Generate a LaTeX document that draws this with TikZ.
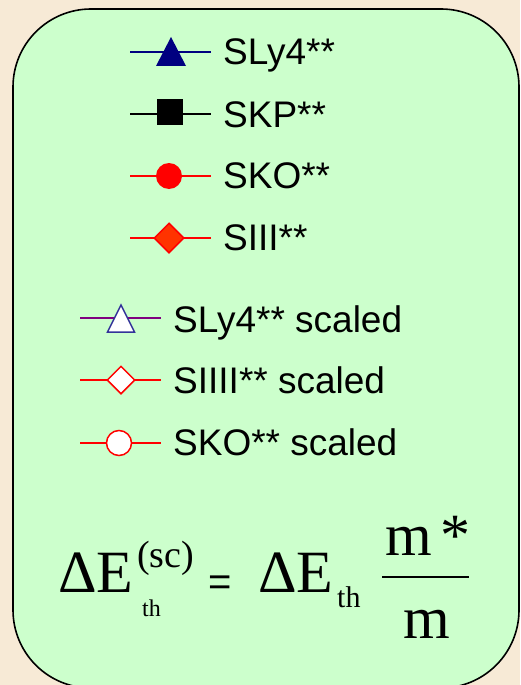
\documentclass[tikz,border=0pt]{standalone}
\usepackage{fontspec}
\setmainfont{Liberation Sans}
\newfontfamily\tms{Liberation Serif}
\usetikzlibrary{shapes.geometric}
\definecolor{bgbeige}{RGB}{247,234,214}
\definecolor{boxgreen}{RGB}{204,255,204}
\definecolor{navyc}{RGB}{0,0,128}
\definecolor{purplec}{RGB}{128,0,128}
\definecolor{outlineblue}{RGB}{51,51,153}
\definecolor{redc}{RGB}{255,0,0}
\definecolor{orangered}{RGB}{255,51,0}
\tikzset{
  legline/.style={line width=1.5pt},
  legtext/.style={anchor=base west, inner sep=0pt, font=\fontsize{37}{40}\selectfont},
  sq/.style={rectangle, minimum size=26pt, inner sep=0pt},
  circ/.style={circle, minimum size=26pt, inner sep=0pt},
  dia/.style={diamond, minimum size=30pt, inner sep=0pt},
  eqbig/.style={anchor=base west, inner sep=0pt, font=\tms\fontsize{60}{60}\selectfont},
  eqsmall/.style={anchor=base west, inner sep=0pt, font=\tms\fontsize{30}{30}\selectfont},
}
\begin{document}
\begin{tikzpicture}[x=1pt,y=-1pt]
\useasboundingbox (0,0) rectangle (520,685);
\fill[bgbeige] (0,0) rectangle (520,685);
% rounded box
\draw[line width=1.6pt, fill=boxgreen, rounded corners=78pt] (13,9) rectangle (519,688);

% row 1 SLy4**
\coordinate (l1a) at (130,52); \coordinate (l1b) at (211,52);
\draw[legline, navyc] (l1a) -- (l1b);
\coordinate (m1) at (171,51.5);
\fill[navyc] (m1) ++(-15,14.5) -- ++(15,-29) -- ++(15,29) -- cycle;
\node[legtext] (t1) at (223,65) {SLy4**};
% row 2 SKP**
\coordinate (l2a) at (130,114); \coordinate (l2b) at (211,114);
\draw[legline, black] (l2a) -- (l2b);
\node[sq, fill=black] (m2) at (170,112) {};
\node[legtext] (t2) at (223,127) {SKP**};
% row 3 SKO**
\coordinate (l3a) at (130,176); \coordinate (l3b) at (211,176);
\draw[legline, redc] (l3a) -- (l3b);
\node[circ, fill=redc] (m3) at (169,176) {};
\node[legtext] (t3) at (223,188) {SKO**};
% row 4 SIII**
\coordinate (l4a) at (130,238); \coordinate (l4b) at (211,238);
\draw[legline, redc] (l4a) -- (l4b);
\node[dia, fill=orangered, draw=redc, line width=1.5pt] (m4) at (169,238) {};
\node[legtext] (t4) at (223,250) {SIII**};

% scaled rows
\coordinate (l5a) at (80,318); \coordinate (l5b) at (161,318);
\draw[legline, purplec] (l5a) -- (l5b);
\coordinate (m5) at (121,318.5);
\filldraw[fill=white, draw=outlineblue, line width=1.5pt, line join=miter] (m5) ++(-13.5,13.5) -- ++(13.5,-27) -- ++(13.5,27) -- cycle;
\node[legtext] (t5) at (173,332) {SLy4** scaled};

\coordinate (l6a) at (80,380); \coordinate (l6b) at (161,380);
\draw[legline, redc] (l6a) -- (l6b);
\node[dia, minimum size=28pt, fill=white, draw=redc, line width=1.5pt] (m6) at (121,380) {};
\node[legtext] (t6) at (173,393) {SIIII** scaled};

\coordinate (l7a) at (80,443); \coordinate (l7b) at (161,443);
\draw[legline, redc] (l7a) -- (l7b);
\node[circ, minimum size=25pt, fill=white, draw=redc, line width=1.5pt] (m7) at (119,443) {};
\node[legtext] (t7) at (173,455) {SKO** scaled};

% formula
\node[eqbig] (e1) at (58,592) {ΔE};
\node[anchor=base west, inner sep=0pt, font=\tms\fontsize{38}{38}\selectfont] (e1sup) at (137,567) {(sc)};
\node[anchor=base west, inner sep=0pt, font=\tms\fontsize{24}{24}\selectfont] (e1sub) at (142,616) {th};
\node[anchor=base west, inner sep=0pt, font=\fontsize{40}{40}\selectfont] (eq) at (208,595) {=};
\node[eqbig] (e2) at (258,592) {ΔE};
\node[eqsmall] (e2sub) at (337,607) {th};
\node[eqbig] (num) at (385,555) {m};
\node[eqbig] (star) at (440,555) {*};
\node[eqbig] (den) at (403,638) {m};
\coordinate (fa) at (382,577); \coordinate (fb) at (469,577);
\draw[line width=2pt] (fa) -- (fb);
\end{tikzpicture}
\end{document}
